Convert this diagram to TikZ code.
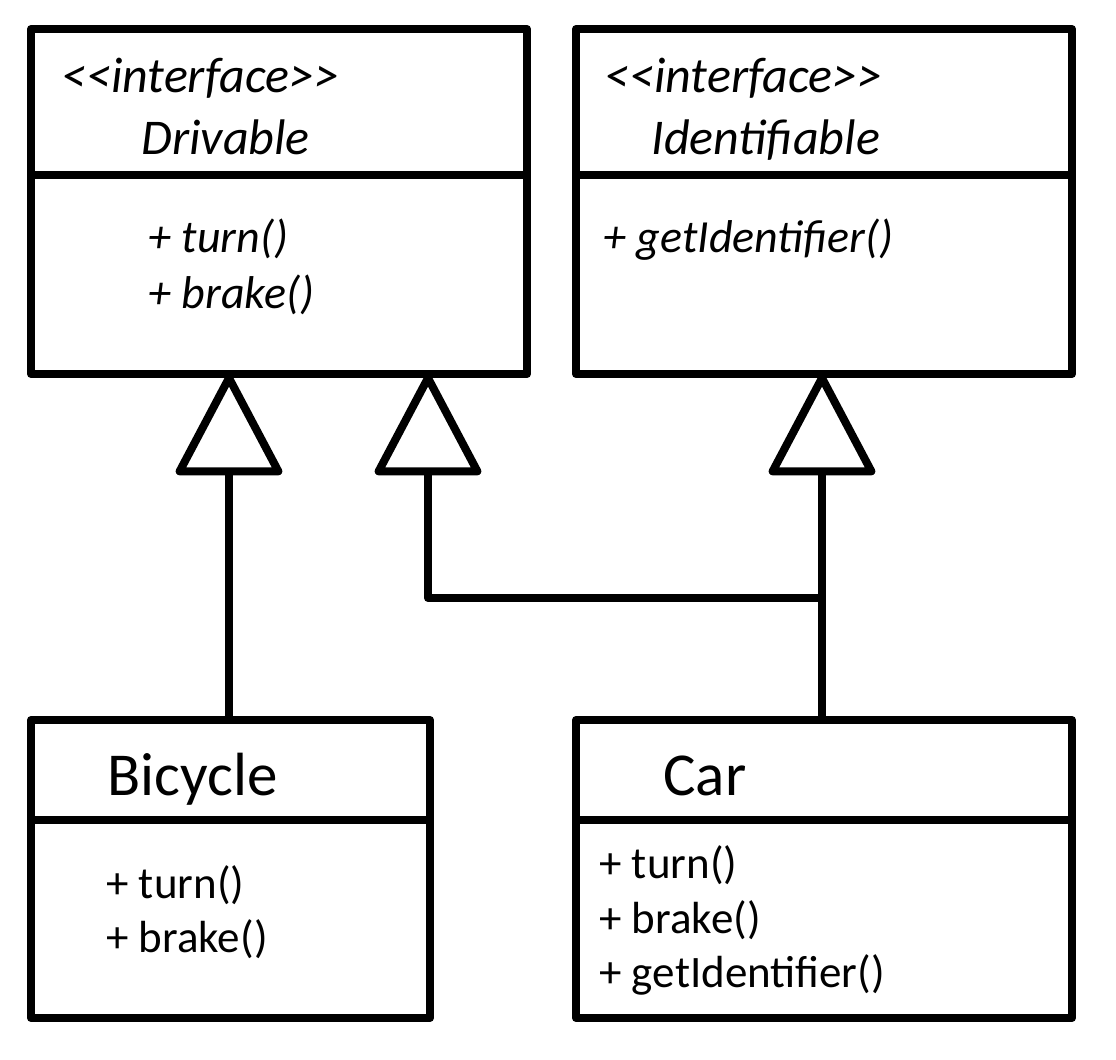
\documentclass[tikz,border=0pt]{standalone}
\usepackage{fontspec}
\setmainfont{Carlito}
\usetikzlibrary{arrows.meta,fit}

\begin{document}
\begin{tikzpicture}[
    x=0.5pt, y=-0.5pt,
    % === STYLES ===
    class box/.style={draw, line width=4pt, line join=round, inner sep=0pt, outer sep=0pt},
    divider/.style={line width=4pt},
    stereo/.style={anchor=base west, inner sep=0pt, font=\fontsize{25}{30}\selectfont\itshape},
    iface name/.style={anchor=base west, inner sep=0pt, font=\fontsize{25}{30}\selectfont\itshape},
    iface op/.style={anchor=base west, inner sep=0pt, font=\fontsize{23}{28}\selectfont\itshape},
    class name/.style={anchor=base west, inner sep=0pt, font=\fontsize{30.5}{36}\selectfont},
    class op/.style={anchor=base west, inner sep=0pt, font=\fontsize{22.5}{27}\selectfont},
    realize/.style={line width=4pt, line join=round,
        -{Triangle[open, length=53pt, width=55pt, line join=round]}},
]
    \useasboundingbox (0,0) rectangle (1116,1060);

    % === KHUNG CÁC LỚP ===
    \node[class box, fit={(31,29) (527,374)}] (drv) {};
    \node[class box, fit={(576,29) (1072,374)}] (ident) {};
    \node[class box, fit={(31,720) (430,1018)}] (bike) {};
    \node[class box, fit={(576,720) (1072,1018)}] (car) {};

    % === ĐƯỜNG NGĂN ===
    \draw[divider] (drv.west |- 0,175) -- (drv.east |- 0,175);
    \draw[divider] (ident.west |- 0,175) -- (ident.east |- 0,175);
    \draw[divider] (bike.west |- 0,820) -- (bike.east |- 0,820);
    \draw[divider] (car.west |- 0,820) -- (car.east |- 0,820);

    % === INTERFACE DRIVABLE ===
    \node[stereo] (drvst) at (61,92) {<\kern0pt<interface>\kern0pt>};
    \node[iface name] (drvnm) at (141,155) {Drivable};
    \node[iface op] (drvturn) at (148,252) {+ turn()};
    \node[iface op] (drvbrake) at (148,308) {+ brake()};

    % === INTERFACE IDENTIFIABLE ===
    \node[stereo] (idst) at (604,92) {<\kern0pt<interface>\kern0pt>};
    \node[iface name] (idnm) at (651,155) {Identifiable};
    \node[iface op] (idget) at (603,252) {+ getIdentifier()};

    % === LỚP BICYCLE ===
    \node[class name] (bikenm) at (107,795) {Bicycle};
    \node[class op] (biketurn) at (106,898) {+ turn()};
    \node[class op] (bikebrake) at (106,952) {+ brake()};

    % === LỚP CAR ===
    \node[class name] (carnm) at (663,795) {Car};
    \node[class op] (carturn) at (599,878) {+ turn()};
    \node[class op] (carbrake) at (599,933) {+ brake()};
    \node[class op] (carget) at (599,987) {+ getIdentifier()};

    % === QUAN HỆ HIỆN THỰC ===
    \coordinate (join) at (822,598);
    \draw[realize] (bike.north -| 229,0) -- (drv.south -| 229,0);
    \draw[realize] (car.north -| join) -- (ident.south -| join);
    \draw[realize] (join) -| (drv.south -| 428,0);

\end{tikzpicture}
\end{document}
